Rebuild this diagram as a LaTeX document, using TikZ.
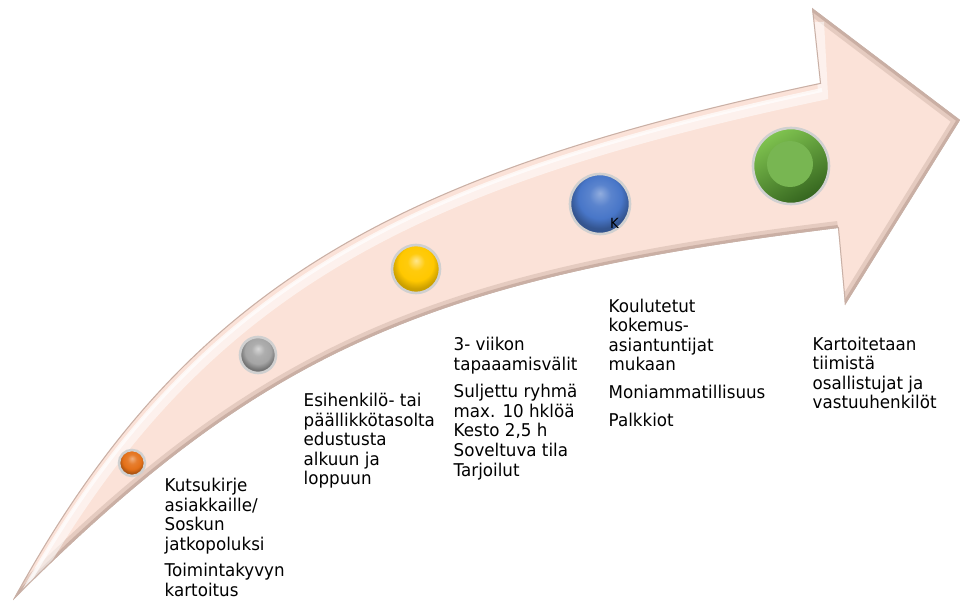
\documentclass[tikz,border=0pt]{standalone}
\usepackage{fontspec}
\setmainfont{DejaVu Sans}[FakeStretch=0.95]
\definecolor{bandc}{RGB}{251,226,216}
\definecolor{rimc}{RGB}{200,176,166}
\definecolor{shadc}{RGB}{165,135,122}
\definecolor{ringc}{RGB}{208,208,208}
\definecolor{orangec}{RGB}{228,112,24}
\definecolor{grayc}{RGB}{165,165,165}
\definecolor{yellowc}{RGB}{255,200,0}
\definecolor{bluec}{RGB}{72,118,200}
\definecolor{greenlt}{RGB}{128,196,80}
\definecolor{greendk}{RGB}{52,100,30}
\definecolor{greenin}{RGB}{120,182,82}
\pgfdeclareradialshading{shorange}{\pgfpoint{0bp}{9bp}}{color(0bp)=(orangec!55!white); color(9bp)=(orangec!90!white); color(18bp)=(orangec); color(25bp)=(orangec!72!black); color(50bp)=(orangec!60!black)}
\pgfdeclareradialshading{shgray}{\pgfpoint{0bp}{9bp}}{color(0bp)=(grayc!45!white); color(9bp)=(grayc!90!white); color(18bp)=(grayc); color(25bp)=(grayc!70!black); color(50bp)=(grayc!60!black)}
\pgfdeclareradialshading{shyellow}{\pgfpoint{0bp}{9bp}}{color(0bp)=(yellowc!45!white); color(9bp)=(yellowc!95!white); color(18bp)=(yellowc); color(25bp)=(yellowc!80!black); color(50bp)=(yellowc!65!black)}
\pgfdeclareradialshading{shblue}{\pgfpoint{0bp}{9bp}}{color(0bp)=(bluec!60!white); color(9bp)=(bluec!90!white); color(18bp)=(bluec); color(25bp)=(bluec!72!black); color(50bp)=(bluec!60!black)}
\begin{document}
\begin{tikzpicture}[x=1pt,y=-1pt,
  txt/.style={anchor=base west, inner sep=0pt, text=black,
    font=\fontsize{17.6}{19.6}\selectfont},
  bead/.style={circle, inner sep=0pt, draw=ringc, line width=2.6pt}]
\fill[white] (0,0) rectangle (961,602);
\path[use as bounding box] (0,0) rectangle (961,602);
% arrow body
\begin{scope}
\clip (13,600) .. controls (187.3,279.7) and (403.9,171.5) .. (820,83) -- (812,8) -- (960,120) -- (845,305) -- (838,228) .. controls (425,278.6) and (260,353) .. cycle;
\fill[bandc] (0,0) rectangle (961,602);
% lower shadow
\draw[shadc, opacity=0.25, line width=14pt] (838,228) .. controls (425,278.6) and (260,353) .. (13,600);
\draw[shadc, opacity=0.4, line width=6pt] (838,228) .. controls (425,278.6) and (260,353) .. (13,600);
\draw[shadc, opacity=0.25, line width=14pt] (812,8) -- (960,120) -- (845,305);
\draw[shadc, opacity=0.4, line width=6pt] (812,8) -- (960,120) -- (845,305);
% upper highlight
\draw[white, opacity=0.55, line width=10pt] (17,612) .. controls (191,291) and (407,183) .. (823,95) -- (819,22);
\draw[white, opacity=0.7, line width=4pt] (15,607) .. controls (189,287) and (405,179) .. (822,90);
% rim
\draw[rimc, line width=2pt] (13,600) .. controls (187.3,279.7) and (403.9,171.5) .. (820,83) -- (812,8) -- (960,120) -- (845,305) -- (838,228) .. controls (425,278.6) and (260,353) .. cycle;
\end{scope}
% beads
\node[bead, minimum size=26pt, shading=shorange] (b1) at (132,463) {};
\node[bead, minimum size=36pt, shading=shgray] (b2) at (258,355) {};
\node[bead, minimum size=48pt, shading=shyellow] (b3) at (416,269) {};
\node[bead, minimum size=60pt, shading=shblue] (b4) at (600,204) {};
\node[bead, minimum size=76pt, top color=greenlt, bottom color=greendk, shading angle=30] (b5) at (791,166) {};
\node[circle, inner sep=0pt, minimum size=46pt, fill=greenin] (b5in) at (790,164) {};
\node[anchor=base west, inner sep=0pt, text=black, font=\fontsize{14}{16}\selectfont] (k) at (610,228) {K};
% texts
\node[txt] (t1) at (164.5,491.5) {\begin{tabular}[t]{@{}l@{}}Kutsukirje\\asiakkaille/\\Soskun\\jatkopoluksi\\[7pt]Toimintakyvyn\\kartoitus\end{tabular}};
\node[txt] (t2) at (303.5,406.5) {\begin{tabular}[t]{@{}l@{}}Esihenkilö- tai\\päällikkötasolta\\edustusta\\alkuun ja\\loppuun\end{tabular}};
\node[txt] (t3) at (453.5,350.5) {\begin{tabular}[t]{@{}l@{}}3- viikon\\tapaaamisvälit\\[8pt]Suljettu ryhmä\\max. 10 hklöä\\Kesto 2,5 h\\Soveltuva tila\\Tarjoilut\end{tabular}};
\node[txt] (t4) at (608.5,312) {\begin{tabular}[t]{@{}l@{}}Koulutetut\\kokemus-\\asiantuntijat\\mukaan\\[8pt]Moniammatillisuus\\[8pt]Palkkiot\end{tabular}};
\node[txt] (t5) at (812.5,350) {\begin{tabular}[t]{@{}l@{}}Kartoitetaan\\tiimistä\\osallistujat ja\\vastuuhenkilöt\end{tabular}};
\end{tikzpicture}
\end{document}
